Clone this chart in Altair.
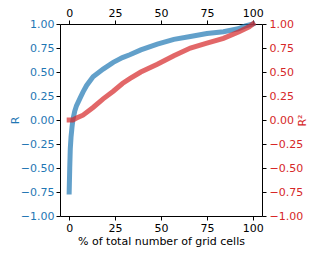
import altair as alt
import pandas as pd

# R curve (blue)
r_pct = [0, 0.3, 0.6, 1, 1.5, 2, 3, 4, 6, 7.5, 9.5, 13, 18.5, 24, 29, 33, 39, 48, 57, 66, 75, 84, 92, 96, 100]
r_val = [-0.75, -0.5, -0.3, -0.18, -0.08, 0.0, 0.09, 0.15, 0.23, 0.29, 0.36, 0.45, 0.53, 0.60, 0.65, 0.68, 0.73, 0.79, 0.84, 0.87, 0.90, 0.92, 0.95, 0.98, 1.0]

# R^2 curve (red)
r2_pct = [0, 2, 4, 7.5, 13, 18.5, 24, 29, 33, 39, 48, 57, 66, 75, 84, 92.5, 98, 100]
r2_val = [0, 0.0, 0.02, 0.05, 0.13, 0.22, 0.30, 0.38, 0.43, 0.50, 0.58, 0.67, 0.75, 0.80, 0.85, 0.92, 0.97, 1.0]

x_ticks = [0, 25, 50, 75, 100]
y_ticks = [-1, -0.75, -0.5, -0.25, 0, 0.25, 0.5, 0.75, 1]

df_r = pd.DataFrame({"pct": r_pct, "val": r_val})
df_r2 = pd.DataFrame({"pct": r2_pct, "val": r2_val})

BLUE = "#1f77b4"
RED = "#d62728"
FONT = "DejaVu Sans"

xscale = alt.Scale(domain=[-5, 105], nice=False, zero=False)
yscale = alt.Scale(domain=[-1, 1], nice=False, zero=False)

common = dict(grid=False, domainColor="black", tickColor="black", domainWidth=1,
              tickWidth=1, tickSize=4, labelFont=FONT, labelFontSize=11,
              titleFont=FONT, titleFontSize=11, titleFontWeight="normal")

blue = alt.Chart(df_r).mark_line(color=BLUE, opacity=0.7, strokeWidth=5, strokeCap="square").encode(
    x=alt.X("pct:Q", scale=xscale,
            axis=alt.Axis(orient="bottom", values=x_ticks, format="d",
                          title="% of total number of grid cells", labelColor="black",
                          titleColor="black", titlePadding=2, labelPadding=2, **common)),
    y=alt.Y("val:Q", scale=yscale,
            axis=alt.Axis(orient="left", values=y_ticks, format=".2f", title="R",
                          labelColor=BLUE, titleColor=BLUE, titlePadding=0,
                          labelPadding=2, **common)),
)

red = alt.Chart(df_r2).mark_line(color=RED, opacity=0.7, strokeWidth=5, strokeCap="square").encode(
    x=alt.X("pct:Q", scale=xscale,
            axis=alt.Axis(orient="top", values=x_ticks, format="d", title=None,
                          labelColor="black", labelPadding=2, **common)),
    y=alt.Y("val:Q", scale=yscale,
            axis=alt.Axis(orient="right", values=y_ticks, format=".2f", title="R²",
                          labelColor=RED, titleColor=RED, titleAngle=270,
                          titlePadding=5, labelPadding=3, **common)),
)

chart = alt.layer(blue, red).resolve_scale(y="independent").resolve_axis(
    x="independent", y="independent"
).properties(
    width=202, height=192,
    autosize=alt.AutoSizeParams(type="none"),
    padding={"left": 52, "top": 16, "right": 50, "bottom": 32},
).configure_view(stroke=None)

chart.save("out.html", embed_options={"renderer": "svg", "actions": False})
